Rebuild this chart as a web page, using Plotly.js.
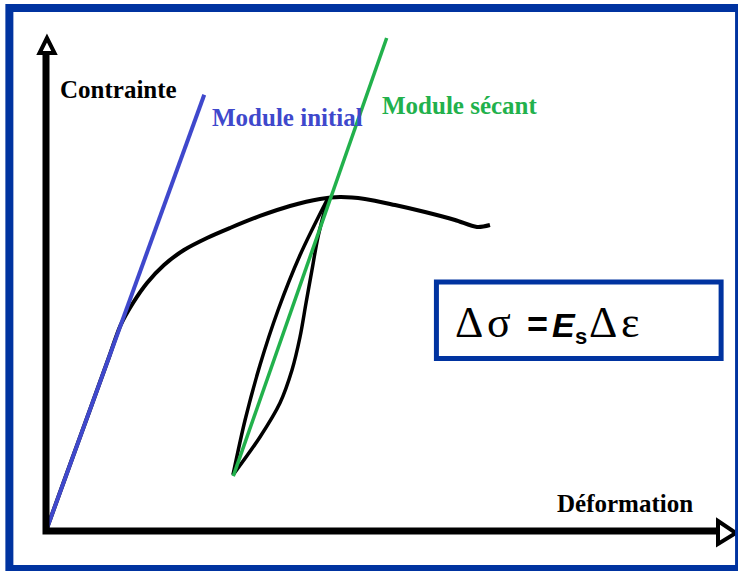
<!DOCTYPE html>
<html>
<head>
<meta charset="utf-8">
<script src="https://cdn.plot.ly/plotly-3.0.1.min.js"></script>
<style>
  html, body { margin: 0; padding: 0; background: #fff; }
  #plot { width: 738px; height: 571px; }
</style>
</head>
<body>
<div id="plot"></div>
<script>
// courbe contrainte-déformation (unités arbitraires, 0..100)
const curveStrain = [0, 3.14, 6.30, 9.23, 10.81, 12.59, 14.62, 17.08, 19.97, 23.30, 26.63, 30.97, 35.31, 39.65, 42.55, 46.16, 50.51, 54.85, 59.19, 62.37, 64.25];
const curveStress = [0, 12.15, 24.29, 35.63, 41.70, 46.15, 50.20, 53.85, 56.88, 59.31, 61.34, 63.77, 65.79, 67.21, 67.61, 67.21, 65.99, 64.57, 62.96, 61.54, 61.94];

// boucle de chargement / déchargement
const loadStrain = [27.06, 28.81, 30.97, 33.59, 36.77, 40.81];
const loadStress = [11.34, 22.47, 33.60, 44.74, 55.87, 67.41];
const unloadStrain = [40.81, 39.36, 38.49, 37.63, 36.76, 35.60, 33.86, 30.97, 27.06];
const unloadStress = [67.41, 59.51, 52.83, 46.15, 39.27, 32.59, 25.91, 19.03, 11.34];

// modules
const initialStrain = [0, 22.9];
const initialStress = [0, 88.3];
const secantStrain = [27.1, 49.3];
const secantStress = [11.1, 99.8];

const black = '#000000';
const blue = '#3F48CC';
const green = '#22B14C';
const frameBlue = '#0033A0';

const traces = [
    { x: curveStrain, y: curveStress, mode: 'lines', line: { color: black, width: 4, shape: 'spline', smoothing: 0.9 } },
    { x: loadStrain, y: loadStress, mode: 'lines', line: { color: black, width: 3.5, shape: 'spline', smoothing: 0.9 } },
    { x: unloadStrain, y: unloadStress, mode: 'lines', line: { color: black, width: 3.5, shape: 'spline', smoothing: 0.9 } },
    { x: initialStrain, y: initialStress, mode: 'lines', line: { color: blue, width: 4 } },
    { x: secantStrain, y: secantStress, mode: 'lines', line: { color: green, width: 3.5 } }
];

const serifFamily = 'Liberation Serif, Times New Roman, serif';
const sansFamily = 'Liberation Sans, Arial, sans-serif';
const serif = { family: serifFamily, size: 25, color: black };

const annotations = [
    { x: 1.8, y: 89.3, text: '<b>Contrainte</b>', font: serif },
    { x: 23.8, y: 83.8, text: '<b>Module initial</b>', font: Object.assign({}, serif, { color: blue }) },
    { x: 48.3, y: 86.2, text: '<b>Module sécant</b>', font: Object.assign({}, serif, { color: green }) },
    { x: 73.6, y: 5.5, text: '<b>Déformation</b>', font: serif },
    // formule Δσ = Es Δε
    { x: 58.9, y: 42.3, text: 'Δ\u200Aσ', font: { family: serifFamily, size: 44, color: black } },
    { x: 69.3, y: 41.8, text: '<b>=</b>', font: { family: sansFamily, size: 36, color: black } },
    { x: 72.9, y: 41.8, text: '<b><i>E</i></b>', font: { family: sansFamily, size: 34, color: black } },
    { x: 76.3, y: 39.3, text: '<b>s</b>', font: { family: sansFamily, size: 22, color: black } },
    { x: 78.3, y: 42.3, text: 'Δ\u200Aε', font: { family: serifFamily, size: 44, color: black } }
].map(a => Object.assign({ xref: 'x', yref: 'y', xanchor: 'left', yanchor: 'middle', showarrow: false }, a));

const shapes = [
    // axes
    { type: 'path', xref: 'paper', yref: 'paper', path: 'M 0 0.9676 L 0 0 L 0.9725 0', line: { color: black, width: 7 } },
    // flèches
    { type: 'path', xref: 'paper', yref: 'paper', path: 'M 0.0014 0.998 L -0.0094 0.9676 L 0.0123 0.9676 Z',
      fillcolor: '#fff', line: { color: black, width: 4 } },
    { type: 'path', xref: 'paper', yref: 'paper', path: 'M 0.9725 0.0202 L 0.9985 -0.004 L 0.9725 -0.0263 Z',
      fillcolor: '#fff', line: { color: black, width: 4 } },
    // cadre de la formule
    { type: 'rect', xref: 'x', yref: 'y', x0: 56.5, x1: 97.7, y0: 34.9, y1: 50.4, line: { color: frameBlue, width: 5 } },
    // cadre extérieur
    { type: 'rect', xref: 'paper', yref: 'paper', x0: -0.053, x1: 1.003, y0: -0.0769, y1: 1.0587, line: { color: frameBlue, width: 8 } }
];

const layout = {
    width: 738,
    height: 571,
    margin: { l: 46, r: 1, t: 37, b: 40 },
    paper_bgcolor: '#fff',
    plot_bgcolor: '#fff',
    showlegend: false,
    xaxis: { range: [0, 100], visible: false, fixedrange: true },
    yaxis: { range: [0, 100], visible: false, fixedrange: true },
    annotations: annotations,
    shapes: shapes
};

Plotly.newPlot('plot', traces, layout, { staticPlot: true });
</script>
</body>
</html>
